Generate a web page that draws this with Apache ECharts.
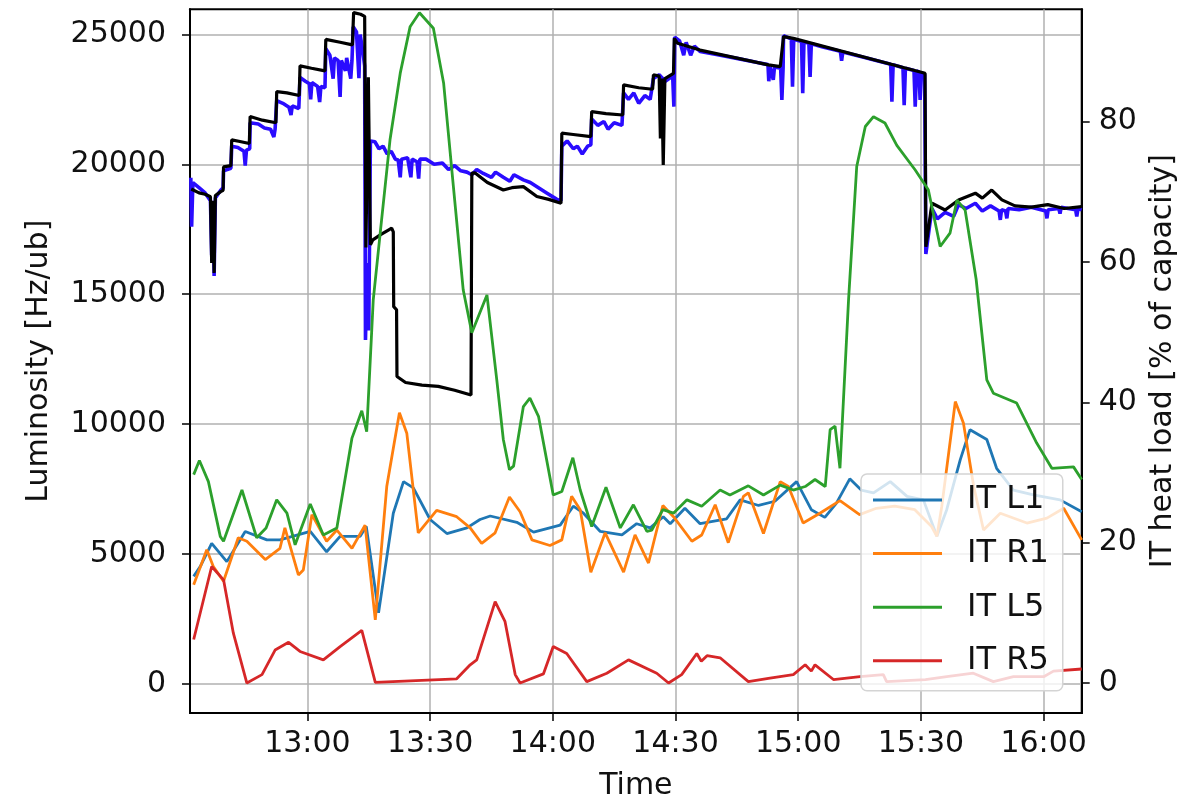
<!DOCTYPE html>
<html>
<head>
<meta charset="utf-8">
<title>Luminosity and IT heat load</title>
<script src="https://cdn.jsdelivr.net/npm/echarts@6/dist/echarts.min.js"></script>
<style>
  html, body { margin: 0; padding: 0; background: #fff; }
  #chart { width: 1198px; height: 806px; }
</style>
</head>
<body>
<div id="chart"></div>
<script>
// Time is stored as minutes after midnight.
const timeTicks = [780, 810, 840, 870, 900, 930, 960];
const lumTicks = [0, 5000, 10000, 15000, 20000, 25000];
const heatTicks = [0, 20, 40, 60, 80];

// Instantaneous luminosity [Hz/ub], two measurements: [time, value]
const luminosityBlue = [
  [751.5, 19480], [751.7, 17600], [752.0, 19300], [753.5, 19100], [755.0, 18900], [756.3, 18600],
  [756.6, 16500], [756.9, 18500], [757.2, 15700], [757.5, 18700], [758.8, 19000], [759.4, 19100],
  [759.5, 19750], [761.3, 19850], [761.5, 20700], [763.0, 20650], [764.5, 20500], [764.8, 19950],
  [765.1, 20550], [765.9, 20600], [766.0, 21600], [768.0, 21550], [769.5, 21400], [771.0, 21350],
  [771.8, 21050], [772.1, 21350], [772.5, 22450], [774.0, 22350], [775.5, 22200], [776.0, 21900],
  [776.3, 22250], [777.9, 22150], [778.2, 23350], [779.5, 23200], [780.5, 23100], [780.8, 22500],
  [781.1, 23150], [782.5, 23000], [783.0, 22400], [783.3, 23000], [784.3, 22950], [784.5, 24450],
  [785.5, 24200], [786.3, 23300], [786.6, 24100], [787.5, 24000], [788.0, 22600], [788.3, 24000],
  [789.3, 23600], [789.6, 24100], [790.6, 23300], [790.9, 24000], [791.2, 25300], [792.0, 25100],
  [792.6, 23320], [792.9, 25000], [793.6, 24300], [794.0, 23800], [794.2, 13240], [794.6, 16200],
  [795.0, 13600], [795.4, 20900], [796.5, 20870], [797.5, 20600], [798.5, 20700], [799.5, 20400],
  [800.5, 20500], [801.5, 20200], [802.2, 20170], [802.7, 19500], [803.0, 20200], [804.5, 20250],
  [805.3, 19500], [805.6, 20200], [806.8, 20100], [807.2, 19450], [807.5, 20200], [809.0, 20200],
  [811.0, 20000], [813.0, 20050], [814.5, 19800], [816.0, 19950], [817.5, 19750], [819.0, 19700],
  [820.2, 19600], [821.4, 19800], [823.0, 19650], [825.0, 19500], [826.0, 19700], [827.9, 19500],
  [829.5, 19350], [830.5, 19600], [832.8, 19400], [834.5, 19300], [836.5, 19100], [838.5, 18900],
  [841.0, 18650], [842.0, 18600], [842.2, 20700], [843.5, 20900], [845.0, 20600], [846.0, 20700],
  [847.2, 20400], [848.5, 20700], [849.3, 20750], [849.5, 21750], [851.0, 21500], [852.5, 21650],
  [853.5, 21350], [855.0, 21600], [856.9, 21500], [857.3, 22750], [858.5, 22500], [859.8, 22750],
  [861.0, 22350], [862.5, 22650], [863.8, 22500], [864.6, 23300], [866.0, 23450], [867.5, 23200],
  [869.3, 23400], [869.6, 22220], [869.8, 24900], [871.0, 24750], [872.0, 24200], [872.6, 24700],
  [873.7, 24200], [874.6, 24550], [876.0, 24350], [880.0, 24230], [885.0, 24080], [890.0, 23920],
  [892.6, 23840], [892.8, 23200], [893.1, 23750], [893.9, 23250], [894.2, 23750], [895.7, 23700],
  [896.0, 22480], [896.3, 23700], [896.4, 24950], [898.3, 24830], [898.6, 22990], [898.9, 24820],
  [900.8, 24730], [901.1, 22740], [901.4, 24720], [902.6, 24660], [902.9, 23370], [903.2, 24640],
  [906.0, 24520], [910.3, 24350], [910.6, 23990], [910.9, 24330], [916.0, 24120], [922.6, 23850],
  [922.9, 22410], [923.2, 23840], [925.6, 23720], [925.9, 22280], [926.2, 23700], [928.3, 23610],
  [928.6, 22220], [928.9, 23600], [929.5, 23560], [929.8, 22480], [930.1, 23540], [930.9, 23450],
  [931.2, 16550], [932.0, 17500], [932.7, 18300], [934.0, 17900], [935.9, 18150], [938.0, 18000],
  [939.2, 18450], [941.0, 18300], [943.3, 18500], [945.0, 18200], [947.0, 18400], [949.1, 18200],
  [949.4, 17860], [949.7, 18250], [950.7, 18200], [951.0, 17920], [951.3, 18300], [954.0, 18250],
  [957.0, 18350], [960.5, 18200], [960.8, 17920], [961.1, 18250], [963.7, 18300], [964.0, 18100],
  [964.3, 18350], [966.0, 18300], [967.8, 18250], [968.1, 17990], [968.4, 18300], [969.3, 18250]
];

const luminosityBlack = [
  [751.6, 19050], [753.5, 18900], [755.0, 18850], [756.3, 18750], [756.6, 16200], [756.9, 18600],
  [757.2, 15820], [757.5, 18800], [758.8, 18950], [759.4, 19000], [759.5, 19900], [761.3, 19950],
  [761.5, 20940], [763.5, 20880], [765.8, 20800], [766.0, 21840], [769.0, 21700], [772.3, 21600],
  [772.5, 22800], [775.0, 22750], [778.0, 22650], [778.2, 23790], [781.0, 23700], [784.3, 23600],
  [784.5, 24810], [788.0, 24700], [791.0, 24600], [791.3, 25840], [793.0, 25780], [794.0, 25700],
  [794.3, 16800], [794.9, 23350], [795.4, 16900], [796.0, 17090], [798.0, 17300], [799.8, 17470],
  [800.6, 17540], [801.0, 17400], [801.1, 14520], [801.8, 14400], [801.9, 11830], [804.0, 11600],
  [808.0, 11500], [812.0, 11450], [816.0, 11300], [820.0, 11120], [820.2, 19660], [821.0, 19670],
  [824.0, 19300], [827.9, 19010], [830.0, 19100], [832.8, 19140], [836.1, 18760], [839.0, 18650],
  [842.0, 18500], [842.2, 21200], [845.0, 21150], [849.3, 21070], [849.5, 22030], [853.0, 21950],
  [857.1, 21900], [857.3, 23060], [861.0, 22950], [864.4, 22890], [864.6, 23450], [866.0, 23400],
  [866.3, 21000], [866.6, 23300], [867.0, 19980], [867.4, 23300], [869.5, 23500], [869.7, 24850],
  [870.5, 24660], [876.0, 24400], [892.7, 23830], [895.6, 23760], [896.4, 24920], [898.8, 24850],
  [931.0, 23505], [931.2, 16830], [932.7, 18500], [935.9, 18240], [939.2, 18630], [943.3, 18890],
  [945.0, 18700], [947.3, 19010], [949.8, 18630], [953.0, 18400], [957.0, 18350], [961.0, 18450],
  [965.0, 18300], [969.3, 18370]
];

// Inner triplet heat load [% of capacity]: [time, value]
const itL1 = [
  [752.2, 15.2], [753.8, 16.6], [756.6, 19.9], [760.3, 17.3], [764.8, 21.6], [770.1, 20.4],
  [773.3, 20.4], [780.7, 21.6], [784.7, 18.7], [788.0, 20.9], [792.9, 20.9], [794.4, 22.3],
  [797.4, 10.0], [801.0, 24.2], [803.5, 28.7], [805.9, 27.8], [810.0, 23.3], [814.1, 21.3],
  [819.0, 22.1], [822.2, 23.3], [824.7, 23.8], [831.2, 22.9], [835.3, 21.5], [841.8, 22.5],
  [845.0, 25.2], [847.5, 24.2], [851.6, 21.6], [856.9, 21.1], [860.5, 22.7], [863.8, 22.1],
  [867.0, 23.7], [868.7, 22.7], [872.3, 24.9], [876.0, 22.7], [882.5, 23.4], [885.8, 26.1],
  [890.3, 25.3], [894.3, 25.9], [899.6, 28.7], [903.2, 24.7], [906.5, 23.6], [909.3, 25.6],
  [912.6, 29.1], [915.4, 27.5], [918.4, 27.1], [922.5, 28.7], [926.6, 26.6], [930.6, 26.1],
  [933.9, 20.9], [936.3, 24.7], [939.6, 31.8], [942.0, 36.1], [946.1, 34.7], [948.5, 30.6],
  [952.6, 27.5], [957.5, 26.8], [964.0, 26.1], [969.3, 24.4]
];

const itR1 = [
  [752.2, 14.0], [755.4, 19.0], [757.0, 16.6], [759.5, 14.5], [763.1, 20.7], [765.2, 20.2],
  [769.7, 17.6], [773.3, 19.2], [774.5, 22.1], [777.8, 15.4], [779.0, 16.1], [781.1, 24.0],
  [784.7, 20.2], [787.2, 21.8], [790.9, 19.2], [794.1, 22.5], [796.6, 9.0], [799.4, 28.0],
  [802.5, 38.5], [804.3, 35.6], [807.1, 21.4], [811.6, 24.6], [816.5, 23.7], [819.8, 22.1],
  [822.6, 19.9], [825.9, 21.4], [829.4, 26.5], [832.0, 24.4], [834.9, 20.4], [839.3, 19.6],
  [842.2, 20.4], [844.6, 26.6], [846.7, 24.7], [849.3, 15.8], [852.8, 21.4], [857.3, 15.8],
  [860.1, 21.1], [863.4, 17.1], [866.9, 25.3], [869.5, 23.7], [874.0, 20.2], [876.4, 21.1],
  [879.7, 25.4], [882.9, 20.0], [886.6, 26.6], [887.8, 27.1], [891.5, 21.3], [895.6, 28.7],
  [897.6, 28.0], [901.2, 22.8], [905.3, 24.2], [910.2, 26.0], [915.0, 24.0], [919.1, 24.9],
  [923.6, 25.2], [928.5, 24.7], [932.6, 22.3], [933.9, 20.9], [935.1, 25.2], [938.4, 40.1],
  [940.4, 37.0], [942.9, 28.0], [945.3, 21.8], [949.4, 24.2], [955.9, 22.8], [960.8, 23.5],
  [964.9, 24.9], [969.3, 20.4]
];

const itL5 = [
  [752.2, 29.7], [753.6, 31.7], [755.8, 28.7], [758.7, 20.9], [759.5, 20.2], [764.0, 27.5],
  [767.6, 20.7], [769.9, 22.1], [772.5, 26.1], [775.0, 24.2], [777.0, 19.7], [780.7, 25.5],
  [783.9, 21.1], [787.2, 22.1], [790.9, 34.9], [793.3, 38.8], [794.5, 35.8], [796.1, 54.6],
  [797.8, 64.1], [800.2, 77.4], [802.7, 86.9], [805.1, 93.5], [807.4, 95.5], [810.8, 93.3],
  [813.3, 85.5], [815.7, 70.7], [818.1, 56.0], [820.2, 49.9], [823.9, 55.3], [826.3, 43.2],
  [827.9, 34.7], [829.4, 30.4], [830.4, 30.9], [832.8, 39.4], [834.4, 40.6], [836.5, 38.0],
  [840.1, 26.8], [842.2, 27.3], [844.9, 32.1], [846.7, 27.5], [849.5, 22.3], [853.0, 27.9],
  [856.5, 22.1], [859.7, 25.4], [863.0, 21.6], [864.2, 21.8], [866.9, 24.7], [869.5, 24.2],
  [872.8, 26.1], [876.4, 25.2], [880.9, 27.5], [883.3, 26.8], [887.8, 28.1], [891.5, 26.8],
  [895.6, 28.2], [898.8, 27.5], [901.7, 28.0], [904.1, 29.0], [906.6, 28.0], [907.8, 36.1],
  [909.0, 36.6], [910.2, 30.6], [912.3, 54.6], [914.3, 73.6], [916.4, 79.3], [918.4, 80.7],
  [921.2, 79.8], [924.1, 76.6], [928.6, 73.1], [931.8, 70.3], [934.7, 62.2], [937.1, 64.1],
  [938.8, 68.8], [940.8, 67.4], [943.5, 57.5], [946.1, 43.2], [947.7, 41.3], [953.4, 39.9],
  [958.3, 34.2], [962.0, 30.6], [967.3, 30.8], [969.3, 29.0]
];

const itR5 = [
  [752.2, 6.2], [756.6, 16.6], [759.5, 14.7], [761.9, 7.1], [765.2, 0.0], [768.9, 1.2],
  [772.1, 4.7], [775.4, 5.8], [778.2, 4.5], [783.9, 3.3], [788.0, 5.2], [793.3, 7.5],
  [796.6, 0.1], [816.5, 0.6], [819.8, 2.6], [821.4, 3.3], [825.9, 11.6], [828.3, 8.8],
  [830.8, 1.2], [832.0, 0.0], [837.7, 1.3], [840.1, 5.2], [843.4, 4.2], [848.3, 0.2],
  [853.2, 1.4], [858.5, 3.3], [865.4, 1.4], [868.3, 0.0], [871.5, 1.2], [875.2, 4.2],
  [876.3, 3.1], [877.7, 3.9], [880.9, 3.6], [887.8, 0.2], [893.1, 0.7], [898.8, 1.2],
  [901.7, 2.6], [903.2, 1.7], [904.1, 2.6], [908.6, 0.5], [915.1, 0.9], [920.8, 1.2],
  [921.6, 0.2], [931.1, 0.5], [936.3, 0.9], [942.8, 1.4], [947.7, 0.2], [952.6, 0.9],
  [960.0, 0.9], [962.4, 1.7], [969.3, 2.0]
];

const FONT = 'DejaVu Sans';
const TEXT = '#111';
const GRID = '#b0b0b0';

function hhmm(m) {
  const h = Math.floor(m / 60);
  const mm = Math.round(m - h * 60);
  return h + ':' + String(mm).padStart(2, '0');
}

function plain(v) {
  return String(v);
}

function lumLine(name, data, color, width) {
  return {
    name: name, type: 'line', data: data, yAxisIndex: 0,
    symbol: 'none', animation: false,
    lineStyle: { color: color, width: width }, itemStyle: { color: color },
    z: 2
  };
}

function heatLine(name, data, color) {
  return {
    name: name, type: 'line', data: data, yAxisIndex: 1,
    symbol: 'none', animation: false,
    lineStyle: { color: color, width: 2.8 }, itemStyle: { color: color },
    z: 3
  };
}

const chart = echarts.init(document.getElementById('chart'), null, { renderer: 'canvas' });

chart.setOption({
  backgroundColor: '#fff',
  animation: false,
  textStyle: { fontFamily: FONT },
  grid: {
    left: 190, right: 116.3, top: 9.3, bottom: 92.7,
    show: true, borderColor: '#000', borderWidth: 2, backgroundColor: 'transparent'
  },
  legend: {
    data: ['IT L1', 'IT R1', 'IT L5', 'IT R5'],
    orient: 'vertical',
    left: 861, top: 474,
    icon: 'rect',
    itemWidth: 69, itemHeight: 3,
    itemGap: 17.6,
    padding: [8, 14, 12, 12],
    backgroundColor: 'rgba(255,255,255,0.8)',
    borderColor: '#d4d4d4', borderWidth: 1.5, borderRadius: 6,
    textStyle: { fontFamily: FONT, fontSize: 32, color: TEXT, lineHeight: 36, padding: [0, 0, 0, 20] }
  },
  xAxis: {
    type: 'value',
    min: 751.3, max: 969.3,
    name: 'Time', nameLocation: 'middle', nameGap: 58,
    nameTextStyle: { fontFamily: FONT, fontSize: 30, color: TEXT },
    axisLine: { show: true, onZero: false, lineStyle: { color: '#000', width: 2 } },
    axisTick: { show: true, customValues: timeTicks, length: 8, lineStyle: { color: '#000', width: 1.5 } },
    axisLabel: { customValues: timeTicks, formatter: hhmm, fontFamily: FONT, fontSize: 30, color: TEXT, margin: 16 },
    splitLine: { show: true, lineStyle: { color: GRID, width: 1.5 } }
  },
  yAxis: [
    {
      type: 'value', position: 'left',
      min: -1128, max: 25970,
      name: 'Luminosity [Hz/ub]', nameLocation: 'middle', nameGap: 136, nameRotate: 90,
      nameTextStyle: { fontFamily: FONT, fontSize: 30, color: TEXT },
      axisLine: { show: true, onZero: false, lineStyle: { color: '#000', width: 2 } },
      axisTick: { show: true, customValues: lumTicks, length: 8, lineStyle: { color: '#000', width: 1.5 } },
      axisLabel: { customValues: lumTicks, formatter: plain, fontFamily: FONT, fontSize: 30, color: TEXT, margin: 24 },
      splitLine: { show: true, lineStyle: { color: GRID, width: 1.5 } }
    },
    {
      type: 'value', position: 'right',
      min: -4.27, max: 96.0,
      name: 'IT heat load [% of capacity]', nameLocation: 'middle', nameGap: 66, nameRotate: 90,
      nameTextStyle: { fontFamily: FONT, fontSize: 30, color: TEXT },
      axisLine: { show: true, onZero: false, lineStyle: { color: '#000', width: 2 } },
      axisTick: { show: true, customValues: heatTicks, length: 8, lineStyle: { color: '#000', width: 1.5 } },
      axisLabel: { customValues: heatTicks, formatter: plain, fontFamily: FONT, fontSize: 30, color: TEXT, margin: 17 },
      splitLine: { show: false }
    }
  ],
  series: [
    lumLine('Luminosity (blue)', luminosityBlue, '#2a0cff', 3.6),
    lumLine('Luminosity (black)', luminosityBlack, '#000000', 3.2),
    heatLine('IT L1', itL1, '#1f77b4'),
    heatLine('IT R1', itR1, '#ff7f0e'),
    heatLine('IT L5', itL5, '#2ca02c'),
    heatLine('IT R5', itR5, '#d62728')
  ]
});
</script>
</body>
</html>
